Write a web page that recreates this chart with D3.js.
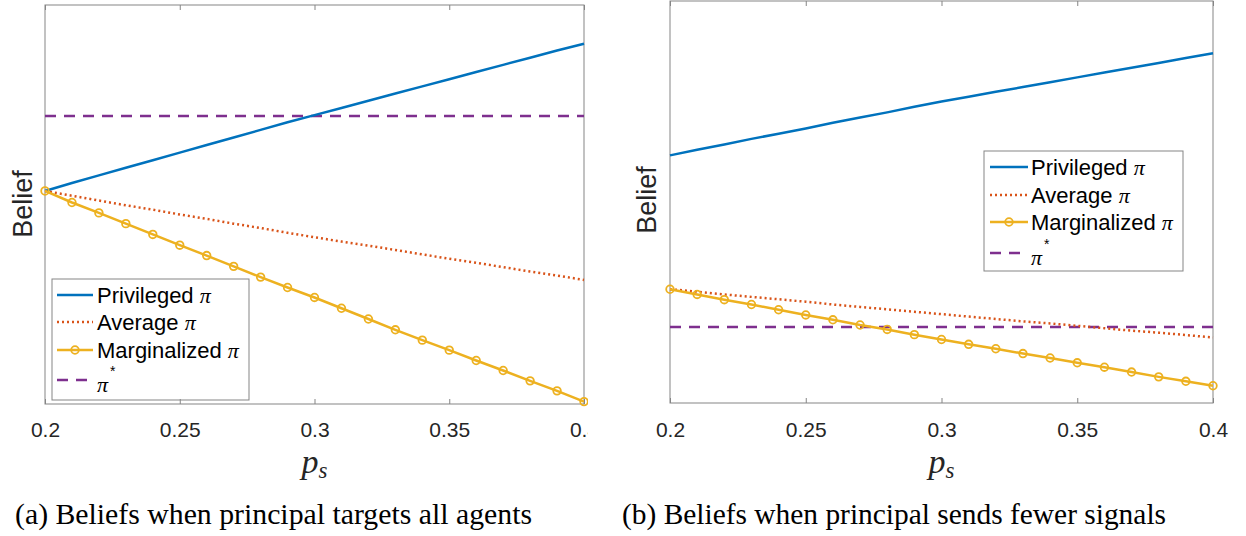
<!DOCTYPE html>
<html><head><meta charset="utf-8">
<script src="https://cdn.jsdelivr.net/npm/d3@7"></script>
<style>body{margin:0;background:#fff}svg{display:block}</style>
</head><body><svg id="c" width="1246" height="536"></svg>
<script>
// ---- data ----
const ps = [0.20,0.21,0.22,0.23,0.24,0.25,0.26,0.27,0.28,0.29,0.30,0.31,0.32,0.33,0.34,0.35,0.36,0.37,0.38,0.39,0.40];
const tickValues = [0.2,0.25,0.3,0.35,0.4];
const tickLabels = ["0.2","0.25","0.3","0.35","0.4"];
const seriesNames = ["Privileged", "Average", "Marginalized"];
const captions = ["(a) Beliefs when principal targets all agents", "(b) Beliefs when principal sends fewer signals"];

// panel (a)
const privA = [0.534,0.554,0.573,0.592,0.611,0.630,0.649,0.668,0.687,0.706,0.724,0.742,0.760,0.778,0.796,0.814,0.832,0.850,0.868,0.886,0.903];
const avgA  = [0.534,0.522,0.510,0.498,0.487,0.475,0.464,0.452,0.441,0.429,0.418,0.407,0.397,0.386,0.375,0.364,0.354,0.343,0.332,0.322,0.311];
const margA = [0.534,0.505,0.479,0.452,0.425,0.398,0.372,0.345,0.318,0.292,0.267,0.240,0.213,0.186,0.160,0.135,0.109,0.084,0.058,0.033,0.006];
const piStarA = 0.722;

// panel (b)
const privB = [0.616,0.630,0.643,0.657,0.670,0.683,0.697,0.710,0.723,0.737,0.750,0.762,0.774,0.786,0.798,0.810,0.822,0.834,0.846,0.858,0.870];
const avgB  = [0.283,0.277,0.270,0.264,0.258,0.252,0.245,0.239,0.233,0.227,0.221,0.215,0.209,0.203,0.198,0.192,0.186,0.180,0.175,0.169,0.163];
const margB = [0.283,0.270,0.257,0.245,0.232,0.219,0.207,0.194,0.183,0.170,0.158,0.146,0.135,0.123,0.112,0.100,0.089,0.077,0.065,0.054,0.043];
const piStarB = 0.189;

// ---- styling ----
const COL = {priv:"#0072BD", avg:"#D95319", marg:"#EDB120", star:"#7E2F8E"};
const SANS = "'Liberation Sans', Arial, Helvetica, sans-serif";
const SERIF = "'Liberation Serif', 'Times New Roman', serif";
const AXC = "#858585";

const svg = d3.select("#c");
svg.append("rect").attr("width",1246).attr("height",536).attr("fill","#fff");

const defs = svg.append("defs");
defs.append("clipPath").attr("id","clipA").append("rect").attr("x",0).attr("y",0).attr("width",588).attr("height",536);

function drawPanel(g, cfg) {
  const x = d3.scaleLinear().domain([0.2,0.4]).range([cfg.left, cfg.right]);
  const y = d3.scaleLinear().domain([0,1]).range([cfg.bottom, cfg.top]);
  const line = d3.line().x(d=>x(d[0])).y(d=>y(d[1]));

  // axes box
  g.append("rect").attr("x",cfg.left).attr("y",cfg.top)
    .attr("width",cfg.right-cfg.left).attr("height",cfg.bottom-cfg.top)
    .attr("fill","none").attr("stroke",AXC).attr("stroke-width",1);

  // series
  const zip = arr => ps.map((p,i)=>[p,arr[i]]);
  g.append("path").datum([[0.2,cfg.star],[0.4,cfg.star]]).attr("d",line)
    .attr("fill","none").attr("stroke",COL.star).attr("stroke-width",2.5).attr("stroke-dasharray","11,8");
  g.append("path").datum(zip(cfg.priv)).attr("d",line)
    .attr("fill","none").attr("stroke",COL.priv).attr("stroke-width",2.5);
  g.append("path").datum(zip(cfg.avg)).attr("d",line)
    .attr("fill","none").attr("stroke",COL.avg).attr("stroke-width",2.5).attr("stroke-dasharray","2,3");
  g.append("path").datum(zip(cfg.marg)).attr("d",line)
    .attr("fill","none").attr("stroke",COL.marg).attr("stroke-width",2.5);
  g.selectAll("circle.m").data(zip(cfg.marg)).enter().append("circle")
    .attr("cx",d=>x(d[0])).attr("cy",d=>y(d[1])).attr("r",3.8)
    .attr("fill","none").attr("stroke",COL.marg).attr("stroke-width",1.8);

  // legend
  const L = cfg.legend;
  const lg = g.append("g");
  lg.append("rect").attr("x",L.x).attr("y",L.y).attr("width",L.w).attr("height",L.h)
    .attr("fill","#fff").attr("stroke",AXC).attr("stroke-width",1);

  // ticks (bottom axis, inward) and top ticks
  const bottomAxis = d3.axisBottom(x).tickValues(tickValues)
    .tickFormat((d,i)=>tickLabels[i]).tickSizeInner(-5).tickSizeOuter(0).tickPadding(cfg.tickPad);
  const ax = g.append("g").attr("transform",`translate(0,${cfg.bottom})`).call(bottomAxis);
  ax.select(".domain").remove();
  ax.selectAll(".tick line").attr("stroke",AXC);
  ax.selectAll(".tick text").attr("font-family",SANS).attr("font-size",21).attr("fill","#262626");
  const topAxis = d3.axisTop(x).tickValues(tickValues).tickFormat("").tickSizeInner(-5).tickSizeOuter(0);
  const at = g.append("g").attr("transform",`translate(0,${cfg.top})`).call(topAxis);
  at.select(".domain").remove();
  at.selectAll(".tick line").attr("stroke",AXC);

  const rows = [
    {name:seriesNames[0], col:COL.priv, dash:null, marker:false},
    {name:seriesNames[1], col:COL.avg, dash:"2,3", marker:false},
    {name:seriesNames[2], col:COL.marg, dash:null, marker:true}
  ];
  rows.forEach((r,i)=>{
    const yy = L.rows[i];
    lg.append("line").attr("x1",L.lx1).attr("x2",L.lx2).attr("y1",yy).attr("y2",yy)
      .attr("stroke",r.col).attr("stroke-width",2.5).attr("stroke-dasharray",r.dash);
    if (r.marker) lg.append("circle").attr("cx",(L.lx1+L.lx2)/2).attr("cy",yy).attr("r",3.8)
      .attr("fill","none").attr("stroke",r.col).attr("stroke-width",1.8);
    const t = lg.append("text").attr("x",L.tx).attr("y",yy+8)
      .attr("font-family",SANS).attr("font-size",22).attr("fill","#000");
    t.append("tspan").text(r.name+" ");
    t.append("tspan").attr("font-family",SERIF).attr("font-style","italic").attr("font-size",22).text("π");
  });
  const ys = L.rows[3];
  lg.append("line").attr("x1",L.lx1).attr("x2",L.lx2).attr("y1",ys).attr("y2",ys)
    .attr("stroke",COL.star).attr("stroke-width",2.5).attr("stroke-dasharray","11,8");
  const st = lg.append("text").attr("x",L.tx).attr("y",ys+12).attr("fill","#000");
  st.append("tspan").attr("font-family",SERIF).attr("font-style","italic").attr("font-size",22).text("π");
  st.append("tspan").attr("font-family",SANS).attr("font-size",14).attr("dx",2).attr("dy",-16).text("*");

  // y label
  g.append("text").attr("transform",`translate(${cfg.ylabX},${cfg.ylabY}) rotate(-90)`)
    .attr("text-anchor","middle").attr("dominant-baseline","central")
    .attr("font-family",SANS).attr("font-size",27).attr("fill","#262626").text("Belief");

  // x label p_s
  const xl = g.append("text").attr("x",(cfg.left+cfg.right)/2).attr("y",473)
    .attr("text-anchor","middle").attr("font-family",SERIF).attr("font-style","italic").attr("fill","#262626");
  xl.append("tspan").attr("font-size",34).text("p");
  xl.append("tspan").attr("font-size",23).attr("dy",5).text("s");

  // caption
  svg.append("text").attr("x",cfg.capX).attr("y",524).attr("font-family",SERIF)
    .attr("font-size",30).attr("fill","#000")
    .attr("textLength",cfg.capW).attr("lengthAdjust","spacingAndGlyphs").text(cfg.caption);
}

const gA = svg.append("g").attr("clip-path","url(#clipA)");
drawPanel(gA, {left:45, right:584, top:5, bottom:404, tickPad:18, priv:privA, avg:avgA, marg:margA, star:piStarA,
  ylabX:22.5, ylabY:204, caption:captions[0], capX:15, capW:517,
  legend:{x:52, y:279, w:197, h:121, rows:[295,322,350,380], lx1:57, lx2:93, tx:97}});

const gB = svg.append("g");
drawPanel(gB, {left:670, right:1213, top:1, bottom:403, tickPad:19, priv:privB, avg:avgB, marg:margB, star:piStarB,
  ylabX:647, ylabY:200, caption:captions[1], capX:622, capW:544,
  legend:{x:984, y:151, w:199, h:120, rows:[167,195,222,253], lx1:990, lx2:1028, tx:1031}});
</script>
</body></html>
